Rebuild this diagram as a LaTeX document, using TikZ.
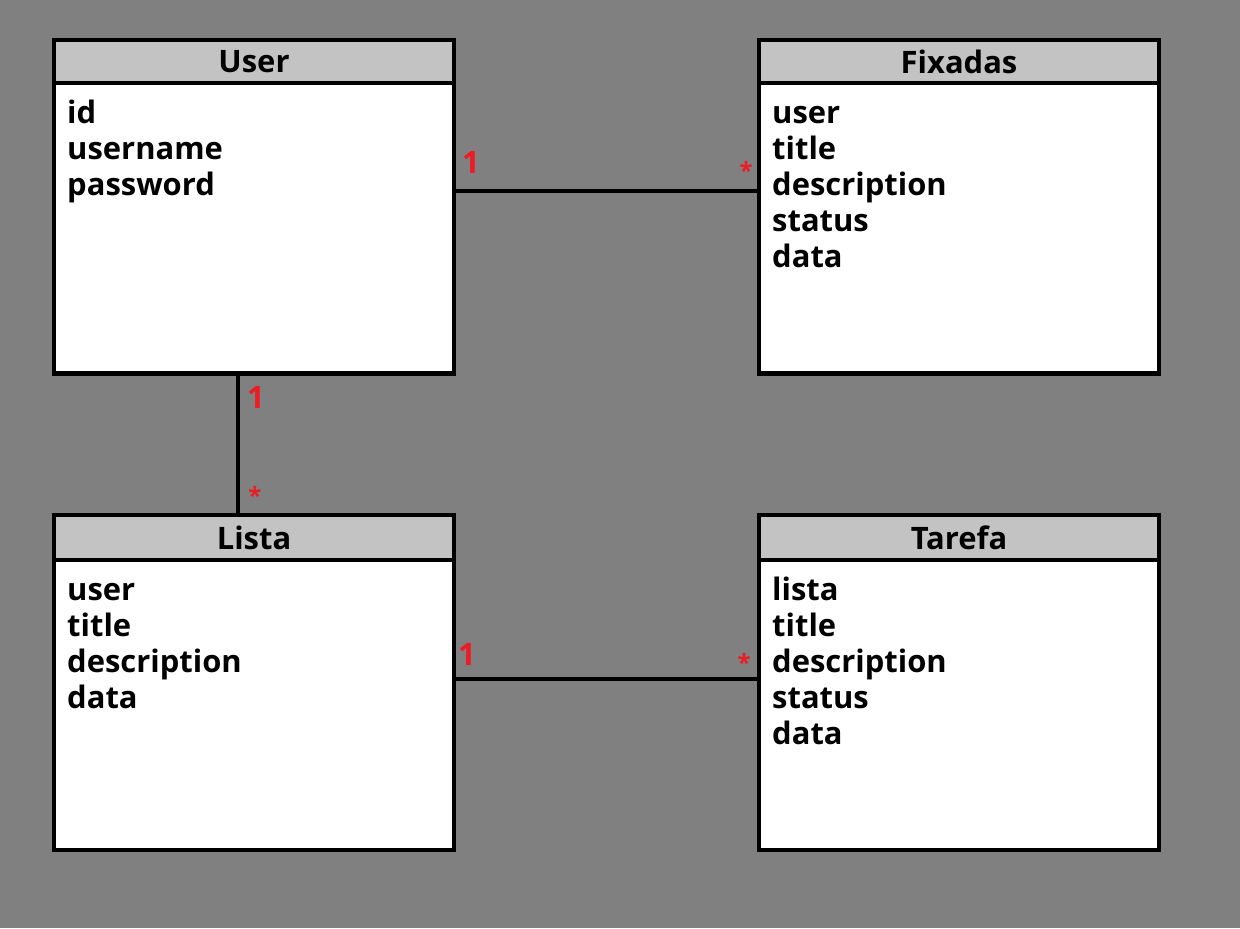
\documentclass[tikz,border=0pt]{standalone}
\usepackage{fontspec}
\setmainfont{Open Sans}
\definecolor{bggray}{RGB}{128,128,128}
\definecolor{headgray}{RGB}{195,195,195}
\definecolor{multred}{RGB}{237,28,36}
\begin{document}
\begin{tikzpicture}[x=0.025cm, y=-0.025cm]

      \tikzset{classhead/.style={draw, line width=0.12cm, fill=headgray, outer sep=0pt, inner sep=0pt, minimum width=10cm, minimum height=1.075cm, font=\fontsize{22}{25.6}\selectfont\bfseries},
               classbody/.style={draw, line width=0.12cm, fill=white, outer sep=0pt, inner sep=0pt, minimum width=10cm, minimum height=7.26cm, anchor=north},
               attrs/.style={anchor=north west, inner sep=0pt, align=left, xshift=0.325cm, yshift=-0.385cm, font=\fontsize{22}{25.6}\selectfont\bfseries},
               link/.style={line width=0.1cm},
               mult/.style={text=multred, inner sep=0pt, font=\fontsize{22}{25.6}\selectfont\bfseries},
               many/.style={text=multred, inner sep=0pt, font=\fontsize{17}{20}\selectfont\bfseries}}
%% Background
      	\fill[bggray] (0,0) rectangle (1240,928);
%% Classes
      	\node[classhead] (userhead) at (254,61.5) {User};
      	\node[classbody] (userbody) at (userhead.south) {};
      	\node[attrs] (userattr) at (userbody.north west) {\strut id\\username\\password};

      	\node[classhead] (fixhead) at (959,61.5) {Fixadas};
      	\node[classbody] (fixbody) at (fixhead.south) {};
      	\node[attrs] (fixattr) at (fixbody.north west) {\strut user\\title\\description\\status\\data};

      	\node[classhead, minimum height=1.125cm] (listahead) at (254,537.5) {Lista};
      	\node[classbody, minimum height=7.25cm] (listabody) at (listahead.south) {};
      	\node[attrs] (listaattr) at (listabody.north west) {\strut user\\title\\description\\data};

      	\node[classhead, minimum height=1.125cm] (tarefahead) at (959,537.5) {Tarefa};
      	\node[classbody, minimum height=7.25cm] (tarefabody) at (tarefahead.south) {};
      	\node[attrs] (tarefaattr) at (tarefabody.north west) {\strut lista\\title\\description\\status\\data};
%Associations
		\draw[link] (userbody.east |- 0,191) -- (fixbody.west |- 0,191);
		\draw[link] (userbody.south -| 238,0) -- (listahead.north -| 238,0);
		\draw[link] (listabody.east |- 0,679) -- (tarefabody.west |- 0,679);
%Multiplicities
		\node[mult] (m1) at (471,162) {1};
		\node[many] (m2) at (746,170) {*};
		\node[mult] (m3) at (256,397) {1};
		\node[many] (m4) at (255,495) {*};
		\node[mult] (m5) at (467,654) {1};
		\node[many] (m6) at (744,662) {*};

	\end{tikzpicture}
\end{document}
